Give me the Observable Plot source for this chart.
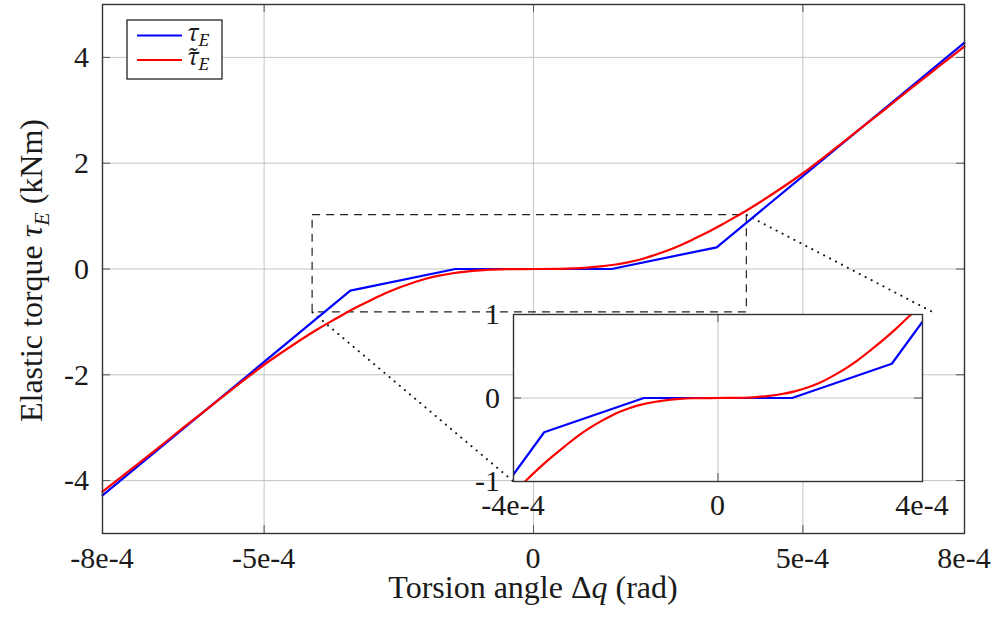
<!DOCTYPE html>
<html><head><meta charset="utf-8">
<script src="https://cdn.jsdelivr.net/npm/d3@7"></script>
<script src="https://cdn.jsdelivr.net/npm/@observablehq/plot@0.6"></script>
<style>
body{margin:0;background:#fff;}
#wrap{position:relative;width:998px;height:624px;}
#inset{position:absolute;}
</style></head><body><div id="wrap"></div>
<script>
// ---------- data ----------
const blueAngle  = [-8e-4, -3.4e-4, -1.45e-4, 1.45e-4, 3.4e-4, 8e-4];
const blueTorque = [-4.28, -0.41, 0, 0, 0.41, 4.28];

const redAngle = [-8e-4,-7.5e-4,-7e-4,-6.5e-4,-6e-4,-5.5e-4,-5e-4,-4.5e-4,-4e-4,-3.75e-4,-3.5e-4,-3.25e-4,-3e-4,-2.75e-4,-2.5e-4,-2.25e-4,-2e-4,-1.75e-4,-1.5e-4,-1.25e-4,-1e-4,-0.75e-4,-0.5e-4,0,
                  0.5e-4,0.75e-4,1e-4,1.25e-4,1.5e-4,1.75e-4,2e-4,2.25e-4,2.5e-4,2.75e-4,3e-4,3.25e-4,3.5e-4,3.75e-4,4e-4,4.5e-4,5e-4,5.5e-4,6e-4,6.5e-4,7e-4,7.5e-4,8e-4];
const redTorque = [-4.21,-3.81,-3.41,-3.0,-2.6,-2.2,-1.81,-1.46,-1.135,-0.985,-0.84,-0.705,-0.58,-0.46,-0.355,-0.265,-0.185,-0.125,-0.08,-0.048,-0.026,-0.011,-0.003,0,
                   0.003,0.011,0.026,0.048,0.08,0.125,0.185,0.265,0.355,0.46,0.58,0.705,0.84,0.985,1.135,1.46,1.81,2.2,2.6,3.0,3.41,3.81,4.21];

const xTicks = [-8e-4, -5e-4, 0, 5e-4, 8e-4];
const xTickLabels = ["-8e-4", "-5e-4", "0", "5e-4", "8e-4"];
const yTicks = [-4, -2, 0, 2, 4];
const yTickLabels = ["-4", "-2", "0", "2", "4"];

const insetXTicks = [-4e-4, 0, 4e-4];
const insetXTickLabels = ["-4e-4", "0", "4e-4"];
const insetYTicks = [-1, 0, 1];
const insetYTickLabels = ["-1", "0", "1"];

const zoomAngle = [-4.1e-4, 3.96e-4];
const zoomTorque = [-0.82, 1.02];

const seriesSymbol = ["τ", "τ̃"];
const seriesSub = ["E", "E"];
const seriesColors = ["#0000ff", "#ff0000"];

// ---------- layout ----------
const FONT = "Liberation Serif";
const W = 998, H = 624, mL = 102, mR = 34, mT = 4, mB = 91;
const innerW = W - mL - mR, innerH = H - mT - mB;
const TICK = 8, GRID = "#c4c4c4", TICKC = "#555", FRAMEC = "#333", TXT = "#1a1a1a";
const TS = 30;  // tick label size
const LS = 32;  // axis label size
const xDom = [-8e-4, 8e-4], yDom = [-5, 5];

const blue = blueAngle.map((a, i) => ({a, t: blueTorque[i]}));
const red = redAngle.map((a, i) => ({a, t: redTorque[i]}));

const IN = {left: 513, top: 314, w: 409, h: 167};
const sx = d3.scaleLinear(xDom, [mL, W - mR]);
const sy = d3.scaleLinear(yDom, [H - mB, mT]);
const connectors = [
  {x1: zoomAngle[0], y1: zoomTorque[0], x2: sx.invert(IN.left), y2: sy.invert(IN.top + IN.h)},
  {x1: zoomAngle[1], y1: zoomTorque[1], x2: sx.invert(IN.left + IN.w + 11), y2: sy.invert(IN.top - 2)}
];

// ---------- text helpers: one self-contained <text> per run, no tspans ----------
const NS = "http://www.w3.org/2000/svg";
const ctx = document.createElement("canvas").getContext("2d");
function measure(text, size, italic, family = FONT) {
  ctx.font = `${italic ? "italic " : ""}${size}px "${family}"`;
  return ctx.measureText(text).width;
}
function addText(svgNode, o) {
  const t = document.createElementNS(NS, "text");
  t.setAttribute("x", o.x);
  t.setAttribute("y", o.y);
  t.setAttribute("font-family", o.family || FONT);
  t.setAttribute("font-size", o.size);
  t.setAttribute("text-anchor", o.anchor || "start");
  t.setAttribute("fill", TXT);
  if (o.italic) t.setAttribute("font-style", "italic");
  if (o.transform) t.setAttribute("transform", o.transform);
  t.textContent = o.text;
  svgNode.appendChild(t);
}
function scaleFn(plot, name, fallback) {
  const sc = plot.scale(name);
  return sc && sc.apply ? v => sc.apply(v) : fallback;
}

// ---------- main chart ----------
const main = Plot.plot({
  width: W, height: H,
  marginLeft: mL, marginRight: mR, marginTop: mT, marginBottom: mB,
  style: {background: "white"},
  x: {domain: xDom, axis: null},
  y: {domain: yDom, axis: null},
  marks: [
    Plot.ruleX(xTicks, {x: d => d, stroke: GRID, strokeWidth: 1}),
    Plot.ruleY(yTicks, {y: d => d, stroke: GRID, strokeWidth: 1}),
    Plot.rect([0], {x1: () => zoomAngle[0], x2: () => zoomAngle[1], y1: () => zoomTorque[0], y2: () => zoomTorque[1],
      fill: "none", stroke: "#222", strokeWidth: 1.2, strokeDasharray: "8,6"}),
    Plot.link(connectors, {x1: "x1", y1: "y1", x2: "x2", y2: "y2", stroke: "#111", strokeWidth: 2,
      strokeDasharray: "0.1,6.6", strokeLinecap: "round"}),
    Plot.line(blue, {x: "a", y: "t", stroke: seriesColors[0], strokeWidth: 2.2}),
    Plot.line(red, {x: "a", y: "t", stroke: seriesColors[1], strokeWidth: 2.2, curve: "monotone-x"}),
    Plot.ruleX(xTicks.slice(1, -1), {x: d => d, stroke: TICKC, insetTop: innerH - TICK}),
    Plot.ruleX(xTicks.slice(1, -1), {x: d => d, stroke: TICKC, insetBottom: innerH - TICK}),
    Plot.ruleY(yTicks, {y: d => d, stroke: TICKC, insetRight: innerW - TICK}),
    Plot.ruleY(yTicks, {y: d => d, stroke: TICKC, insetLeft: innerW - TICK}),
    Plot.frame({stroke: FRAMEC, strokeWidth: 1.4})
  ]
});
main.setAttribute("font-family", FONT);
const mx = scaleFn(main, "x", sx), my = scaleFn(main, "y", sy);

// tick labels (positions from the plot's scales)
xTicks.forEach((v, i) => addText(main, {x: mx(v), y: H - mB + 25 + 0.34 * TS, text: xTickLabels[i], size: TS, anchor: "middle"}));
yTicks.forEach((v, i) => addText(main, {x: mL - 13, y: my(v) + 0.34 * TS, text: yTickLabels[i], size: TS, anchor: "end"}));

// x axis label: "Torsion angle Δq (rad)"
{
  const runs = [
    {text: "Torsion angle Δ", size: LS, italic: false, dy: 0},
    {text: "q", size: LS, italic: true, dy: 0},
    {text: " (rad)", size: LS, italic: false, dy: 0}
  ];
  const total = runs.reduce((s, r) => s + measure(r.text, r.size, r.italic), 0);
  let x = mL + innerW / 2 - total / 2;
  runs.forEach(r => {
    addText(main, {x, y: 598 + r.dy, text: r.text, size: r.size, italic: r.italic});
    x += measure(r.text, r.size, r.italic);
  });
}
// y axis label: "Elastic torque τ_E (kNm)", rotated
{
  const runs = [
    {text: "Elastic torque ", size: LS, italic: false, dy: 0},
    {text: "τ", size: LS, italic: true, dy: 0},
    {text: "E", size: 22, italic: true, dy: 7},
    {text: " (kNm)", size: LS, italic: false, dy: 0}
  ];
  const total = runs.reduce((s, r) => s + measure(r.text, r.size, r.italic), 0);
  const cy = mT + innerH / 2 + 2;
  let off = -total / 2;
  runs.forEach(r => {
    addText(main, {x: off, y: r.dy, text: r.text, size: r.size, italic: r.italic,
      transform: `translate(42,${cy}) rotate(-90)`});
    off += measure(r.text, r.size, r.italic);
  });
}
// legend
{
  const LX = 127, LY = 20;
  const box = document.createElementNS(NS, "rect");
  box.setAttribute("x", LX); box.setAttribute("y", LY);
  box.setAttribute("width", 95); box.setAttribute("height", 59);
  box.setAttribute("fill", "white"); box.setAttribute("stroke", "#111"); box.setAttribute("stroke-width", 1.2);
  main.appendChild(box);
  [0, 1].forEach(i => {
    const yy = LY + 15.5 + i * 24.5;
    const ln = document.createElementNS(NS, "line");
    ln.setAttribute("x1", LX + 10); ln.setAttribute("x2", LX + 55);
    ln.setAttribute("y1", yy); ln.setAttribute("y2", yy);
    ln.setAttribute("stroke", seriesColors[i]); ln.setAttribute("stroke-width", 2.2);
    main.appendChild(ln);
    addText(main, {x: LX + 60, y: yy + 5, text: seriesSymbol[i], size: 23, italic: true, family: "Noto Serif"});
    const wSym = measure(seriesSymbol[i], 23, true, "Noto Serif");
    addText(main, {x: LX + 60 + wSym, y: yy + 10, text: seriesSub[i], size: 17, italic: true, family: "Noto Serif"});
  });
}

// ---------- inset ----------
const iML = 60, iMR = 40, iMT = 10, iMB = 45;
const inset = Plot.plot({
  width: IN.w + iML + iMR, height: IN.h + iMT + iMB,
  marginLeft: iML, marginRight: iMR, marginTop: iMT, marginBottom: iMB,
  style: {background: "transparent", overflow: "visible"},
  x: {domain: [-4e-4, 4e-4], axis: null},
  y: {domain: [-1, 1], axis: null},
  marks: [
    Plot.frame({fill: "white"}),
    Plot.ruleX([0], {x: d => d, stroke: GRID}),
    Plot.ruleY([0], {y: d => d, stroke: GRID}),
    Plot.line(blue, {x: "a", y: "t", stroke: seriesColors[0], strokeWidth: 2.2, clip: true}),
    Plot.line(red, {x: "a", y: "t", stroke: seriesColors[1], strokeWidth: 2.2, curve: "monotone-x", clip: true}),
    Plot.ruleX([0], {x: d => d, stroke: TICKC, insetTop: IN.h - TICK}),
    Plot.ruleX([0], {x: d => d, stroke: TICKC, insetBottom: IN.h - TICK}),
    Plot.ruleY([0], {y: d => d, stroke: TICKC, insetRight: IN.w - TICK}),
    Plot.ruleY([0], {y: d => d, stroke: TICKC, insetLeft: IN.w - TICK}),
    Plot.frame({stroke: FRAMEC, strokeWidth: 1.4})
  ]
});
inset.setAttribute("font-family", FONT);
const ix = scaleFn(inset, "x", d3.scaleLinear([-4e-4, 4e-4], [iML, iML + IN.w]));
const iy = scaleFn(inset, "y", d3.scaleLinear([-1, 1], [iMT + IN.h, iMT]));
insetXTicks.forEach((v, i) => addText(inset, {x: ix(v), y: iMT + IN.h + 24 + 0.34 * TS, text: insetXTickLabels[i], size: TS, anchor: "middle"}));
insetYTicks.forEach((v, i) => addText(inset, {x: iML - 13, y: iy(v) + 0.34 * TS, text: insetYTickLabels[i], size: TS, anchor: "end"}));
inset.id = "inset";
inset.style.left = (IN.left - iML) + "px";
inset.style.top = (IN.top - iMT) + "px";

document.getElementById("wrap").appendChild(main);
document.getElementById("wrap").appendChild(inset);
</script>
</body></html>
